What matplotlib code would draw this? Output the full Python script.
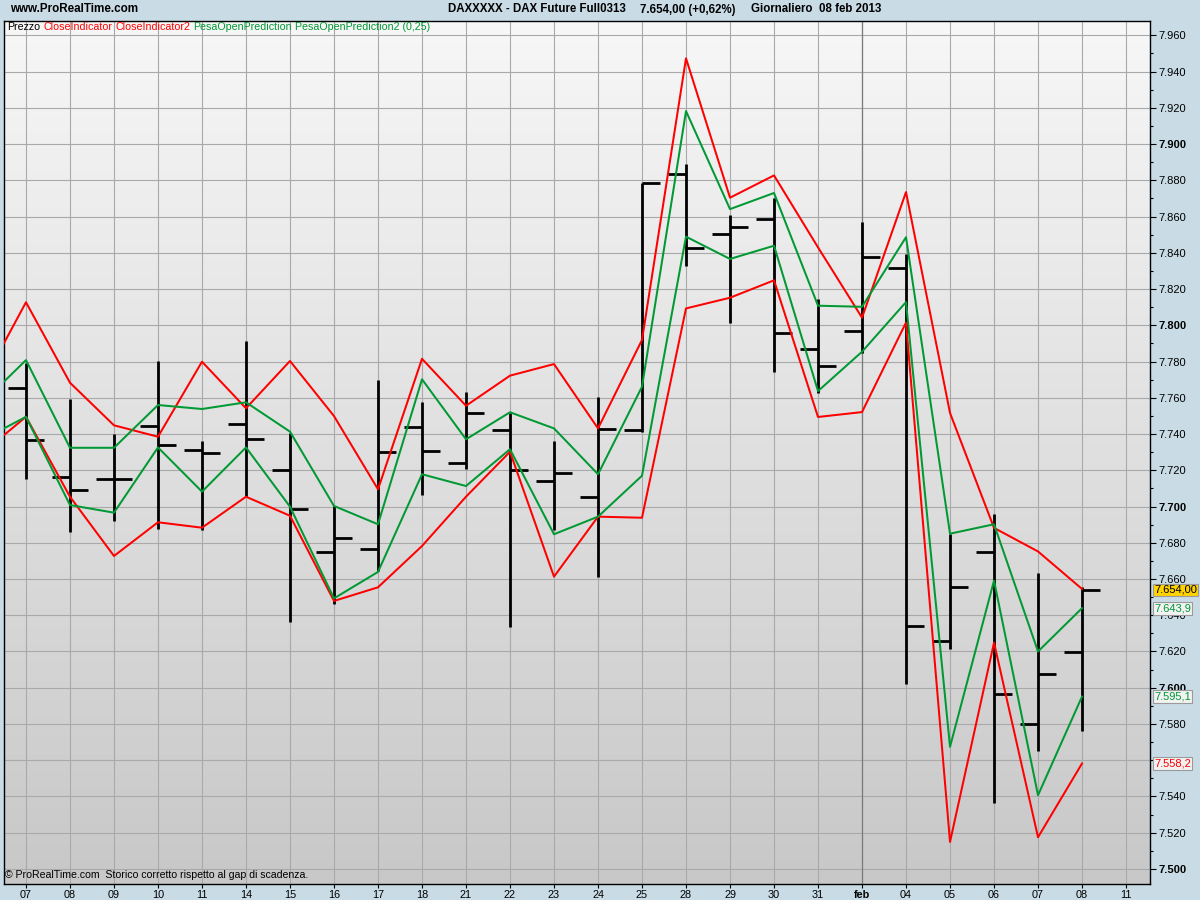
import numpy as np
import matplotlib
matplotlib.use("Agg")
import matplotlib.pyplot as plt
from matplotlib.colors import LinearSegmentedColormap

plt.rcParams['font.family'] = ['Liberation Sans', 'DejaVu Sans']

# ---------------- data ----------------
day_labels = ["07", "08", "09", "10", "11", "14", "15", "16", "17", "18", "21", "22", "23",
              "24", "25", "28", "29", "30", "31", "feb", "04", "05", "06", "07", "08", "11"]

bar_open = [7765.5, 7716.4, 7715.0, 7744.6, 7731.3, 7745.7, 7720.3, 7674.9, 7676.6, 7744.0,
            7724.2, 7742.4, 7714.2, 7705.4, 7742.4, 7883.4, 7850.5, 7858.6, 7786.9, 7797.0,
            7831.5, 7626.0, 7675.0, 7580.2, 7619.8]
bar_high = [7779.0, 7759.3, 7740.0, 7780.3, 7736.1, 7791.3, 7740.6, 7700.3, 7769.8, 7757.5,
            7763.0, 7751.4, 7736.1, 7760.2, 7878.6, 7889.0, 7860.8, 7870.0, 7814.3, 7857.0,
            7839.4, 7684.7, 7695.9, 7663.4, 7655.7]
bar_low = [7715.2, 7685.9, 7692.2, 7687.8, 7687.0, 7705.4, 7636.4, 7646.2, 7664.6, 7706.5,
           7720.9, 7633.4, 7687.0, 7661.3, 7741.0, 7832.7, 7801.4, 7774.4, 7762.5, 7784.9,
           7601.9, 7621.6, 7536.6, 7564.9, 7575.9]
bar_close = [7736.7, 7709.3, 7715.3, 7733.9, 7729.7, 7737.2, 7698.6, 7682.8, 7730.2, 7730.8,
             7751.8, 7720.3, 7718.5, 7742.9, 7878.6, 7842.6, 7854.2, 7795.7, 7777.5, 7837.8,
             7633.9, 7655.7, 7596.8, 7607.8, 7654.0]

# indicator lines: first value belongs to the previous session (off the left edge)
close_ind = [7767.6, 7812.7, 7768.3, 7744.8, 7738.5, 7779.9, 7754.2, 7780.3, 7749.9, 7709.5,
             7781.5, 7755.6, 7772.2, 7778.6, 7743.1, 7791.9, 7947.3, 7870.4, 7882.7, 7843.0,
             7804.2, 7873.5, 7751.6, 7688.2, 7675.2, 7654.5]
close_ind2 = [7729.3, 7749.5, 7705.4, 7672.7, 7691.3, 7688.3, 7705.4, 7694.9, 7647.9, 7655.4,
              7678.2, 7705.4, 7730.2, 7661.3, 7694.4, 7693.8, 7809.3, 7815.2, 7824.8, 7749.4,
              7752.1, 7801.5, 7514.9, 7624.9, 7517.5, 7558.2]
pesa_open = [7757.0, 7780.8, 7732.4, 7732.4, 7756.0, 7753.8, 7757.5, 7741.3, 7700.3, 7690.2,
             7770.2, 7737.1, 7752.0, 7743.1, 7717.8, 7766.1, 7918.2, 7864.1, 7873.0, 7810.8,
             7810.2, 7848.6, 7685.0, 7690.2, 7620.0, 7643.9]
pesa_open2 = [7736.7, 7749.5, 7700.8, 7696.6, 7732.6, 7708.2, 7732.6, 7699.9, 7649.3, 7663.9,
              7717.8, 7711.3, 7731.6, 7684.7, 7694.4, 7717.0, 7848.9, 7836.6, 7843.9, 7763.7,
              7785.4, 7812.8, 7567.4, 7659.1, 7540.7, 7595.1]

y_ticks = list(range(7500, 7961, 20))

legend_items = [("Prezzo", "black"), ("CloseIndicator", "#ff0000"), ("CloseIndicator2", "#ff0000"),
                ("PesaOpenPrediction", "#009933"), ("PesaOpenPrediction2 (0,25)", "#009933")]

# ---------------- styling ----------------
RED = "#ff0000"
GREEN = "#009933"
FIG_BG = "#c9dce6"
W, H = 1200, 900


def it_num(v, dec):
    s = f"{v:,.{dec}f}"
    return s.replace(",", "X").replace(".", ",").replace("X", ".")


fig = plt.figure(figsize=(12, 9), dpi=100, facecolor=FIG_BG)
ax = fig.add_axes([3.5 / W, 16 / H, (1150 - 3.5) / W, (884 - 21) / H])

n_bars = len(bar_open)
bar_x = np.arange(n_bars)
line_x = np.arange(-1, n_bars)

# gradient background (light at top, darker at bottom)
grad = np.linspace(0, 1, 256).reshape(-1, 1)
cmap = LinearSegmentedColormap.from_list("bg", ["#f7f7f7", "#c8c8c8"])
ax.imshow(grad, extent=[0, 1, 0, 1], origin="upper", transform=ax.transAxes, aspect="auto",
          cmap=cmap, zorder=0, interpolation="bicubic")

ax.set_xlim(-0.511, 25.545)
ax.set_ylim(7491.7, 7967.9)

ax.set_axisbelow(True)
ax.grid(True, which="major", color="#a9a9a9", lw=0.8)
ax.axvline(day_labels.index("feb"), color="#7a7a7a", lw=0.9, zorder=0.6)

# OHLC bars
tw = 0.41
bar_lw = 2.0
ax.vlines(bar_x, bar_low, bar_high, color="black", lw=bar_lw, zorder=2)
ax.hlines(bar_open, bar_x - tw, bar_x, color="black", lw=bar_lw, zorder=2)
ax.hlines(bar_close, bar_x, bar_x + tw, color="black", lw=bar_lw, zorder=2)

# indicator lines
lw = 1.45
ax.plot(line_x, close_ind, color=RED, lw=lw, zorder=3)
ax.plot(line_x, close_ind2, color=RED, lw=lw, zorder=3)
ax.plot(line_x, pesa_open, color=GREEN, lw=lw, zorder=3)
ax.plot(line_x, pesa_open2, color=GREEN, lw=lw, zorder=3)

# axes / ticks
for sp in ax.spines.values():
    sp.set_color("black")
    sp.set_linewidth(1.0)

# right-hand value labels (drawn over the axis labels they cover)
label_specs = [
    (pesa_open[-1], it_num(pesa_open[-1], 1), GREEN, "#f2f2f2"),
    (pesa_open2[-1], it_num(pesa_open2[-1], 1), GREEN, "#f2f2f2"),
    (close_ind2[-1], it_num(close_ind2[-1], 1), RED, "#f2f2f2"),
    (bar_close[-1], it_num(bar_close[-1], 2), "black", "#ffd200"),
]

ax.yaxis.tick_right()
ax.set_yticks(y_ticks)
# a tick label that sits fully under a value label is not visible in the chart
hidden = [t for t in y_ticks if any(abs(t - v) < 3 for v, _, _, _ in label_specs)]
ax.set_yticklabels(["" if v in hidden else it_num(v, 0) for v in y_ticks])
ax.set_yticks(list(range(7500, 7961, 10)), minor=True)
ax.tick_params(axis="y", which="major", length=4, width=0.8, pad=2, labelsize=8, colors="black")
ax.tick_params(axis="y", which="minor", length=2, width=0.8)
for lab, v in zip(ax.get_yticklabels(), y_ticks):
    if v % 100 == 0:
        lab.set_fontweight("bold")

ax.set_xticks(np.arange(len(day_labels)))
ax.set_xticklabels(day_labels)
ax.tick_params(axis="x", which="major", length=3, width=0.8, pad=1.5, labelsize=7.8)
for lab, s in zip(ax.get_xticklabels(), day_labels):
    if s == "feb":
        lab.set_fontweight("bold")

for val, txt, tc, fc in label_specs:
    ax.annotate(txt, xy=(1.0, val), xycoords=("axes fraction", "data"),
                xytext=(4, 0), textcoords="offset pixels", ha="left", va="center",
                fontsize=8, color=tc, annotation_clip=False, zorder=10,
                bbox=dict(boxstyle="square,pad=0.12", fc=fc, ec="#9a9a9a", lw=0.8))

# header texts
fig.text(10 / W, 1 - 9.5 / H, "www.ProRealTime.com", fontsize=8.4, fontweight="bold",
         ha="left", va="center")
fig.text(448 / W, 1 - 9.5 / H, "DAXXXXX - DAX Future Full0313", fontsize=8.3,
         fontweight="bold", ha="left", va="center")
fig.text(640 / W, 1 - 9.5 / H, it_num(bar_close[-1], 2) + " (+0,62%)", fontsize=8.3,
         fontweight="bold", ha="left", va="center")
fig.text(751 / W, 1 - 9.5 / H, "Giornaliero  08 feb 2013", fontsize=8.3,
         fontweight="bold", ha="left", va="center")

# legend line (multi colour)
prev = None
for s, c in legend_items:
    if prev is None:
        prev = fig.text(7 / W, 1 - 27 / H, s, color=c, fontsize=7.7, ha="left", va="center",
                        zorder=11)
    else:
        prev = ax.annotate(s, xy=(1, 0.5), xycoords=prev, xytext=(2.2, 0),
                           textcoords="offset points", ha="left", va="center",
                           color=c, fontsize=7.7, annotation_clip=False, zorder=11)

# footer
fig.text(5 / W, 1 - 875 / H, "\u00a9 ProRealTime.com  Storico corretto rispetto al gap di scadenza.",
         fontsize=7.6, ha="left", va="center", zorder=11)

fig.savefig("out.png", dpi=100, facecolor=FIG_BG)
